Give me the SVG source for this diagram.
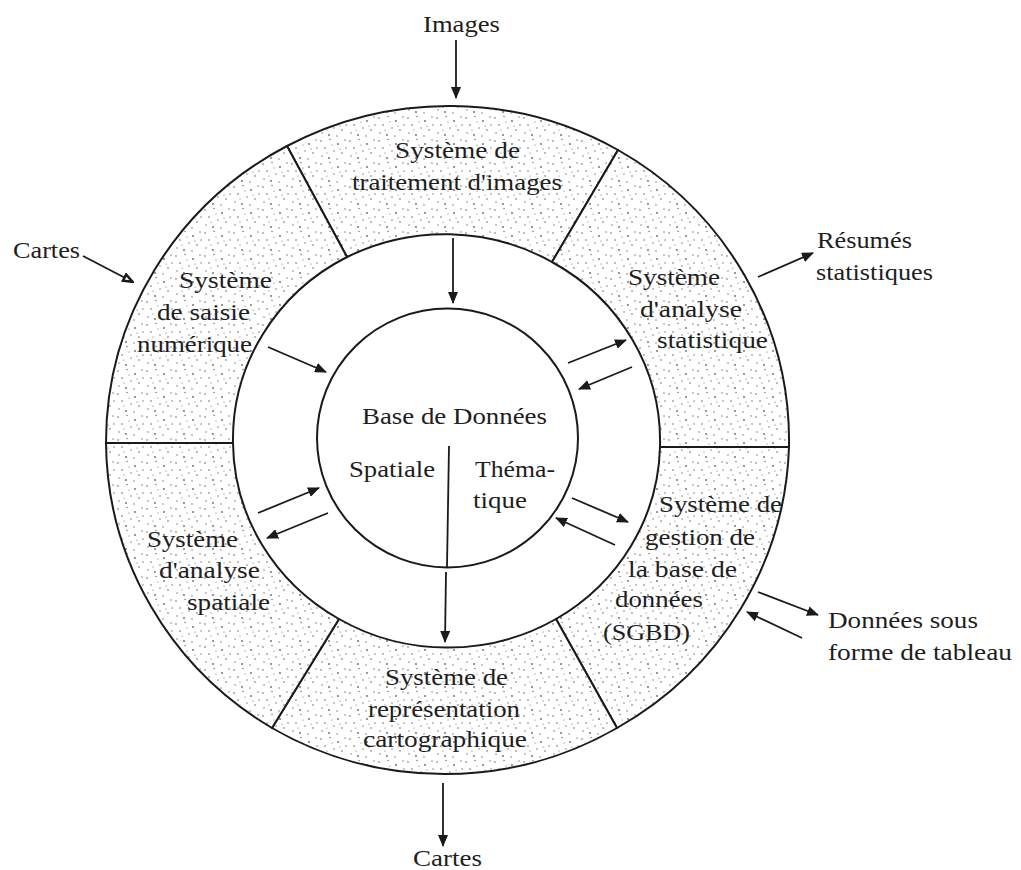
<svg xmlns="http://www.w3.org/2000/svg" width="1021" height="870" viewBox="0 0 1021 870">
<style>
  .t { font-family: "Liberation Serif", "Times New Roman", serif; font-size: 23px; fill: #1e1e1e; }
  .seg { fill: url(#stip); stroke: #1a1a1a; stroke-width: 2; stroke-linejoin: round; }
  .ln { fill: none; stroke: #1a1a1a; stroke-width: 1.8; }
  .arr { fill: none; stroke: #1a1a1a; stroke-width: 1.8; marker-end: url(#ah); }
  .arrh { fill: none; stroke: #1a1a1a; stroke-width: 1.8; marker-end: url(#ahh); }
</style>
<defs>
  <pattern id="stip" width="29" height="23" patternUnits="userSpaceOnUse">
    <rect width="29" height="23" fill="#ffffff"/>
    <g fill="#333" fill-opacity="0.75">
      <circle cx="2" cy="3" r="0.8"/>
      <circle cx="11" cy="1.5" r="0.7"/>
      <circle cx="19" cy="6" r="0.9"/>
      <circle cx="26" cy="2" r="0.7"/>
      <circle cx="6" cy="10" r="0.8"/>
      <circle cx="15" cy="13" r="0.7"/>
      <circle cx="23" cy="15" r="0.8"/>
      <circle cx="3" cy="18" r="0.7"/>
      <circle cx="10" cy="20" r="0.9"/>
      <circle cx="18" cy="21" r="0.7"/>
      <circle cx="27" cy="10" r="0.7"/>
      <circle cx="13" cy="7" r="0.6"/>
      <circle cx="21" cy="11" r="0.6"/>
      <circle cx="8" cy="15" r="0.6"/>
    </g>
  </pattern>
  <marker id="ah" viewBox="0 0 12 10" refX="11" refY="5" markerWidth="12" markerHeight="10" markerUnits="userSpaceOnUse" orient="auto">
    <path d="M0,0 L12,5 L0,10 z" fill="#1a1a1a"/>
  </marker>
  <marker id="ahh" viewBox="0 0 12 10" refX="11" refY="5" markerWidth="12" markerHeight="10" markerUnits="userSpaceOnUse" orient="auto">
    <path d="M1.5,1.5 L10.5,5 L1.5,8.5 z" fill="#ffffff" stroke="#1a1a1a" stroke-width="2.6"/>
  </marker>
</defs>
<rect width="1021" height="870" fill="#ffffff"/>

<g id="seg-images">
  <path class="seg" d="M287,146 A341.5,336 0 0,1 618,150 L552,262 A213.5,206 0 0,0 347,257 Z"/>
  <text class="t" x="395" y="158" textLength="125" lengthAdjust="spacingAndGlyphs">Système de</text>
  <text class="t" x="352" y="190" textLength="210" lengthAdjust="spacingAndGlyphs">traitement d'images</text>
</g>
<g id="seg-statistique">
  <path class="seg" d="M618,150 A341.5,336 0 0,1 789,447 L660,447 A213.5,206 0 0,0 552,262 Z"/>
  <text class="t" x="628" y="285" textLength="92" lengthAdjust="spacingAndGlyphs">Système</text>
  <text class="t" x="640" y="317" textLength="102" lengthAdjust="spacingAndGlyphs">d'analyse</text>
  <text class="t" x="657" y="348" textLength="111" lengthAdjust="spacingAndGlyphs">statistique</text>
</g>
<g id="seg-sgbd">
  <path class="seg" d="M789,447 A341.5,336 0 0,1 617,728 L556,619 A213.5,206 0 0,0 660,447 Z"/>
  <text class="t" x="659" y="512" textLength="123" lengthAdjust="spacingAndGlyphs">Système de</text>
  <text class="t" x="645" y="545" textLength="110" lengthAdjust="spacingAndGlyphs">gestion de</text>
  <text class="t" x="628" y="577" textLength="109" lengthAdjust="spacingAndGlyphs">la base de</text>
  <text class="t" x="615" y="607" textLength="88" lengthAdjust="spacingAndGlyphs">données</text>
  <text class="t" x="603" y="640" textLength="87" lengthAdjust="spacingAndGlyphs">(SGBD)</text>
</g>
<g id="seg-cartographique">
  <path class="seg" d="M617,728 A341.5,336 0 0,1 272,728 L339,619 A213.5,206 0 0,0 556,619 Z"/>
  <text class="t" x="385" y="685" textLength="123" lengthAdjust="spacingAndGlyphs">Système de</text>
  <text class="t" x="368" y="717" textLength="152" lengthAdjust="spacingAndGlyphs">représentation</text>
  <text class="t" x="363" y="747" textLength="164" lengthAdjust="spacingAndGlyphs">cartographique</text>
</g>
<g id="seg-spatiale">
  <path class="seg" d="M272,728 A341.5,336 0 0,1 106,443 L233,443 A213.5,206 0 0,0 339,619 Z"/>
  <text class="t" x="147" y="547" textLength="91" lengthAdjust="spacingAndGlyphs">Système</text>
  <text class="t" x="159" y="578" textLength="101" lengthAdjust="spacingAndGlyphs">d'analyse</text>
  <text class="t" x="187" y="610" textLength="83" lengthAdjust="spacingAndGlyphs">spatiale</text>
</g>
<g id="seg-saisie">
  <path class="seg" d="M106,443 A341.5,336 0 0,1 287,146 L347,257 A213.5,206 0 0,0 233,443 Z"/>
  <text class="t" x="179" y="288" textLength="93" lengthAdjust="spacingAndGlyphs">Système</text>
  <text class="t" x="157" y="320" textLength="93" lengthAdjust="spacingAndGlyphs">de saisie</text>
  <text class="t" x="137" y="352" textLength="115" lengthAdjust="spacingAndGlyphs">numérique</text>
</g>

<g id="base-de-donnees">
  <ellipse cx="447.5" cy="438" rx="130.5" ry="129.5" fill="#ffffff" stroke="#1a1a1a" stroke-width="2"/>
  <line class="ln" x1="449" y1="446" x2="447" y2="567"/>
  <text class="t" x="362" y="424" textLength="185" lengthAdjust="spacingAndGlyphs">Base de Données</text>
  <text class="t" x="349" y="477" textLength="86" lengthAdjust="spacingAndGlyphs">Spatiale</text>
  <text class="t" x="475" y="477" textLength="80" lengthAdjust="spacingAndGlyphs">Théma-</text>
  <text class="t" x="473" y="508" textLength="54" lengthAdjust="spacingAndGlyphs">tique</text>
</g>

<g id="ext-images"><text class="t" x="423" y="32" textLength="77" lengthAdjust="spacingAndGlyphs">Images</text></g>
<g id="ext-cartes-in"><text class="t" x="13" y="258" textLength="67" lengthAdjust="spacingAndGlyphs">Cartes</text></g>
<g id="ext-resumes">
  <text class="t" x="817" y="248" textLength="95" lengthAdjust="spacingAndGlyphs">Résumés</text>
  <text class="t" x="816" y="280" textLength="117" lengthAdjust="spacingAndGlyphs">statistiques</text>
</g>
<g id="ext-tableau">
  <text class="t" x="828" y="628" textLength="150" lengthAdjust="spacingAndGlyphs">Données sous</text>
  <text class="t" x="828" y="660" textLength="184" lengthAdjust="spacingAndGlyphs">forme de tableau</text>
</g>
<g id="ext-cartes-out"><text class="t" x="413" y="866" textLength="69" lengthAdjust="spacingAndGlyphs">Cartes</text></g>

<g id="connectors">
  <line class="arr" x1="456" y1="40" x2="456" y2="98"/>
  <line class="arr" x1="453" y1="238" x2="453" y2="303"/>
  <line class="arrh" x1="83" y1="256" x2="133" y2="282"/>
  <line class="arr" x1="268" y1="347" x2="326" y2="372"/>
  <line class="arr" x1="568" y1="363" x2="626" y2="340"/>
  <line class="arr" x1="632" y1="367" x2="579" y2="389"/>
  <line class="arr" x1="758" y1="277" x2="813" y2="253"/>
  <line class="arr" x1="258" y1="513" x2="319" y2="488"/>
  <line class="arr" x1="328" y1="513" x2="267" y2="538"/>
  <line class="arr" x1="572" y1="498" x2="628" y2="522"/>
  <line class="arr" x1="615" y1="545" x2="556" y2="518"/>
  <line class="arr" x1="758" y1="592" x2="818" y2="615"/>
  <line class="arr" x1="802" y1="638" x2="747" y2="612"/>
  <line class="arr" x1="446" y1="572" x2="445" y2="642"/>
  <line class="arr" x1="443" y1="783" x2="443" y2="846"/>
</g>
</svg>
